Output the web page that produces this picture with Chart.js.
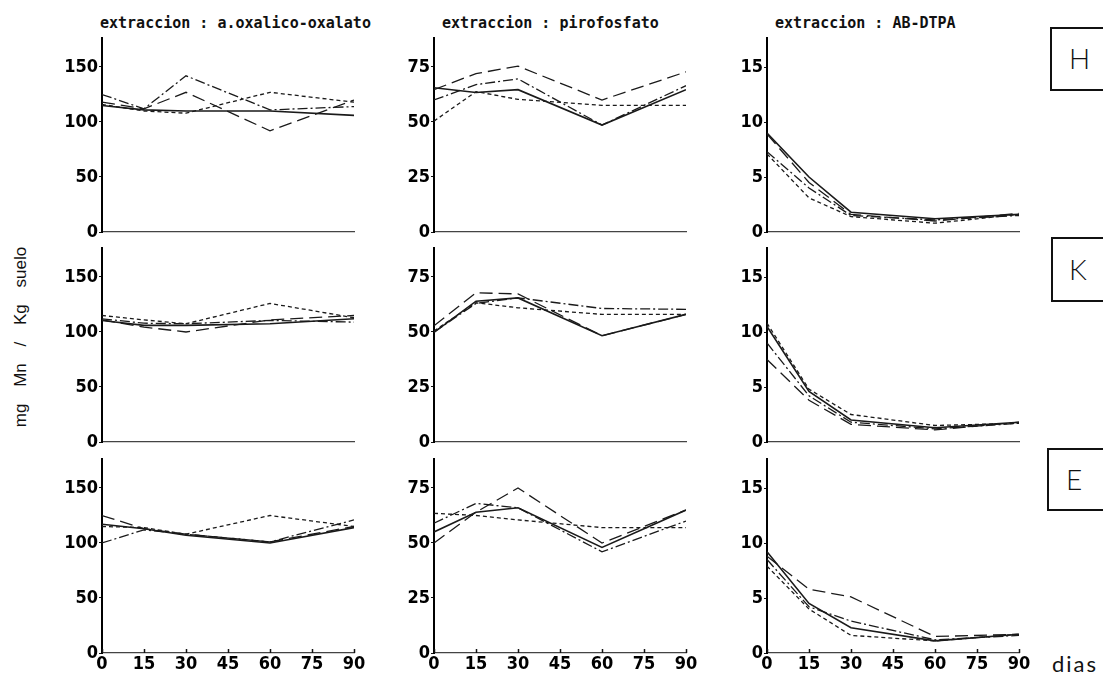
<!DOCTYPE html>
<html>
<head>
<meta charset="utf-8">
<script src="https://cdn.jsdelivr.net/npm/chart.js@4.4.1/dist/chart.umd.min.js"></script>
<style>
  html, body { margin:0; padding:0; background:#fff; }
  #wrap { position:relative; width:1103px; height:674px; overflow:hidden; background:#fff; }
  canvas.panel { position:absolute; }
  .title { position:absolute; font-family:'DejaVu Sans Mono', monospace; font-weight:bold; font-size:15px; line-height:15px; white-space:pre; color:#111; }
  .box { position:absolute; border:2px solid #111; width:70px; background:#fff; }
  .boxlab { position:absolute; font-family:'Lato','DejaVu Sans',sans-serif; font-weight:300; font-size:28px; line-height:28px; color:#111; }
  #ytitle { position:absolute; left:21px; top:337px; transform:translate(-50%,-50%) rotate(-90deg); font-family:'Liberation Sans','DejaVu Sans',sans-serif; font-size:17px; word-spacing:12px; white-space:nowrap; color:#111; }
  #dias { position:absolute; left:1052px; top:653px; font-family:'Lato','DejaVu Sans',sans-serif; font-size:22px; letter-spacing:2px; line-height:22px; color:#111; }
</style>
</head>
<body>
<div id="wrap">
  <div class="title" style="left:100px;top:16px;">extraccion : a.oxalico-oxalato</div>
  <div class="title" style="left:442px;top:16px;">extraccion : pirofosfato</div>
  <div class="title" style="left:775px;top:16px;">extraccion : AB-DTPA</div>
  <div id="ytitle">mg Mn / Kg suelo</div>
  <div class="box" style="left:1050px;top:27px;height:60px;"></div>
  <div class="boxlab" style="left:1069px;top:44px;">H</div>
  <div class="box" style="left:1051px;top:237px;height:61px;"></div>
  <div class="boxlab" style="left:1069px;top:255px;">K</div>
  <div class="box" style="left:1047px;top:448px;height:59px;"></div>
  <div class="boxlab" style="left:1066px;top:465px;">E</div>
  <div id="dias">dias</div>
</div>
<script>
// ---- data ----
const days = [0, 15, 30, 60, 90];
const xTicks = [0, 15, 30, 45, 60, 75, 90];
const yTicksOxalico = [0, 50, 100, 150];
const yTicksPiro = [0, 25, 50, 75];
const yTicksDtpa = [0, 5, 10, 15];
const columnTitles = ['extraccion : a.oxalico-oxalato', 'extraccion : pirofosfato', 'extraccion : AB-DTPA'];
const rowLabels = ['H', 'K', 'E'];

// H
const hOxalicoSolid = [115, 111, 110, 110, 106];
const hOxalicoLongDash = [118, 112, 127, 92, 120];
const hOxalicoDashDot = [125, 112, 142, 111, 114];
const hOxalicoShortDash = [116, 110, 108, 127, 118];

const hPiroSolid = [65.6, 63.4, 64.7, 48.6, 64.7];
const hPiroLongDash = [64.7, 72, 75.4, 60, 72.8];
const hPiroDashDot = [60, 67, 69.6, 48.6, 66.5];
const hPiroShortDash = [50.4, 63.8, 60.3, 57.6, 57.6];

const hDtpaSolid = [9.0, 5.0, 1.8, 1.2, 1.6];
const hDtpaLongDash = [8.9, 4.5, 1.6, 1.0, 1.7];
const hDtpaDashDot = [7.3, 4.0, 1.5, 1.1, 1.5];
const hDtpaShortDash = [7.1, 3.1, 1.4, 0.8, 1.6];

// K
const kOxalicoSolid = [110.5, 106, 106, 107.5, 112];
const kOxalicoLongDash = [111, 104.5, 100, 111, 115];
const kOxalicoDashDot = [112, 108, 107.5, 110.5, 109];
const kOxalicoShortDash = [115, 111, 107.5, 126, 113];

const kPiroSolid = [49.8, 64, 65.5, 48.3, 58];
const kPiroLongDash = [52.8, 67.8, 67.3, 48.3, 58];
const kPiroDashDot = [50, 63, 65.5, 60.7, 60.3];
const kPiroShortDash = [50.5, 63.3, 61, 58, 58];

const kDtpaSolid = [10.5, 4.6, 2.0, 1.3, 1.8];
const kDtpaLongDash = [7.5, 3.8, 1.6, 1.1, 1.8];
const kDtpaDashDot = [9.0, 4.2, 1.8, 1.2, 1.7];
const kDtpaShortDash = [10.8, 4.8, 2.5, 1.5, 1.7];

// E
const eOxalicoSolid = [117, 113, 107, 100, 114];
const eOxalicoLongDash = [125, 113, 108, 101, 115];
const eOxalicoDashDot = [100, 112, 108, 101, 121];
const eOxalicoShortDash = [115, 114, 108, 125, 115];

const ePiroSolid = [55, 64, 66, 48, 65];
const ePiroLongDash = [50, 64, 75, 50, 65];
const ePiroDashDot = [59, 68, 66, 46, 60];
const ePiroShortDash = [63.5, 62.5, 60.5, 57, 57];

const eDtpaSolid = [9.2, 4.5, 2.3, 1.1, 1.7];
const eDtpaLongDash = [8.8, 5.8, 5.1, 1.5, 1.7];
const eDtpaDashDot = [8.5, 4.2, 2.9, 1.2, 1.6];
const eDtpaShortDash = [7.9, 4.0, 1.6, 1.1, 1.7];

// ---- layout ----
const plotLefts = [102, 434, 767];
const zeroLines = [232, 442, 653];
const plotW = 252, plotH = 194;
const yAxisW = 50, xAxisH = 21, padTop = 8, padRight = 12;
const yMaxes = [194 / 1.1, 194 / 2.2, 194 / 11];
const yTickSets = [yTicksOxalico, yTicksPiro, yTicksDtpa];

const styles = [
  { dash: [], width: 1.6 },
  { dash: [13, 6], width: 1.3 },
  { dash: [10, 3, 2, 3], width: 1.3 },
  { dash: [4, 3], width: 1.3 }
];

const panels = [
  [[hOxalicoSolid, hOxalicoLongDash, hOxalicoDashDot, hOxalicoShortDash],
   [hPiroSolid, hPiroLongDash, hPiroDashDot, hPiroShortDash],
   [hDtpaSolid, hDtpaLongDash, hDtpaDashDot, hDtpaShortDash]],
  [[kOxalicoSolid, kOxalicoLongDash, kOxalicoDashDot, kOxalicoShortDash],
   [kPiroSolid, kPiroLongDash, kPiroDashDot, kPiroShortDash],
   [kDtpaSolid, kDtpaLongDash, kDtpaDashDot, kDtpaShortDash]],
  [[eOxalicoSolid, eOxalicoLongDash, eOxalicoDashDot, eOxalicoShortDash],
   [ePiroSolid, ePiroLongDash, ePiroDashDot, ePiroShortDash],
   [eDtpaSolid, eDtpaLongDash, eDtpaDashDot, eDtpaShortDash]]
];

const tickFont = { family: "'Liberation Sans Narrow','DejaVu Sans Condensed','Liberation Sans',sans-serif", size: 18, weight: 'bold', lineHeight: 1.0 };

const innerTicks = {
  id: 'innerTicks',
  afterDraw(chart, args, opts) {
    if (!opts.show) return;
    const ctx = chart.ctx, xs = chart.scales.x, b = chart.chartArea.bottom;
    ctx.save();
    ctx.strokeStyle = '#111';
    ctx.lineWidth = 1.5;
    xTicks.forEach(v => {
      const px = Math.round(xs.getPixelForValue(v)) + 0.5;
      ctx.beginPath(); ctx.moveTo(px, b); ctx.lineTo(px, b - 4); ctx.stroke();
    });
    ctx.restore();
  }
};

function fixScale(size, isY) {
  return function (scale) {
    if (isY) scale.width = size; else scale.height = size;
    scale.paddingTop = 0; scale.paddingBottom = 0; scale.paddingLeft = 0; scale.paddingRight = 0;
  };
}

const wrap = document.getElementById('wrap');
for (let r = 0; r < 3; r++) {
  for (let c = 0; c < 3; c++) {
    const cv = document.createElement('canvas');
    cv.className = 'panel';
    const cw = yAxisW + plotW + padRight, ch = padTop + plotH + xAxisH;
    cv.width = cw; cv.height = ch;
    cv.style.width = cw + 'px'; cv.style.height = ch + 'px';
    cv.style.left = (plotLefts[c] - yAxisW) + 'px';
    cv.style.top = (zeroLines[r] - plotH - padTop) + 'px';
    wrap.appendChild(cv);
    const isBottom = r === 2;
    const ticksY = yTickSets[c];
    new Chart(cv.getContext('2d'), {
      type: 'line',
      data: {
        datasets: panels[r][c].map((vals, i) => ({
          label: ['solid', 'long dash', 'dash-dot', 'short dash'][i],
          data: days.map((d, k) => ({ x: d, y: vals[k] })),
          borderColor: '#1a1a1a',
          borderWidth: styles[i].width,
          borderDash: styles[i].dash,
          pointRadius: 0,
          fill: false,
          tension: 0
        }))
      },
      options: {
        responsive: false,
        animation: false,
        devicePixelRatio: 1,
        layout: { padding: { top: padTop, right: padRight, left: 0, bottom: 0 } },
        plugins: {
          legend: { display: false },
          tooltip: { enabled: false },
          innerTicks: { show: isBottom }
        },
        scales: {
          x: {
            type: 'linear', min: 0, max: 90,
            afterBuildTicks: s => { s.ticks = xTicks.map(v => ({ value: v })); },
            afterFit: fixScale(xAxisH, false),
            grid: { display: false, drawTicks: false },
            border: { display: true, color: '#444', width: 1.2, dash: [12, 3, 3, 3] },
            ticks: {
              display: isBottom, autoSkip: false, maxRotation: 0, padding: 2,
              color: '#000', font: tickFont
            }
          },
          y: {
            type: 'linear', min: 0, max: yMaxes[c],
            afterBuildTicks: s => { s.ticks = ticksY.map(v => ({ value: v })); },
            afterFit: fixScale(yAxisW, true),
            grid: { display: true, drawOnChartArea: false, drawTicks: true, tickLength: 3, tickColor: '#111', tickWidth: 1.2 },
            border: { display: true, color: '#000', width: 2 },
            ticks: { padding: 1, color: '#000', font: tickFont }
          }
        }
      },
      plugins: [innerTicks]
    });
  }
}
</script>
</body>
</html>
